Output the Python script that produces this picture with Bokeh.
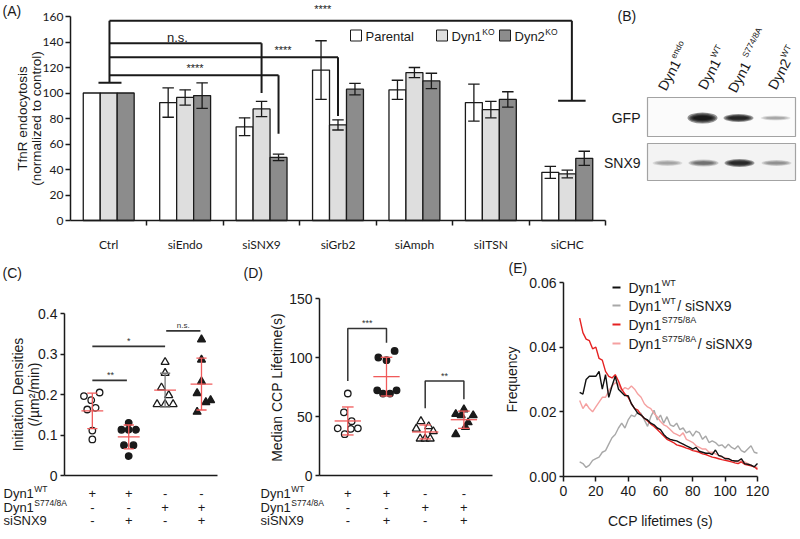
import math
import numpy as np
from bokeh.plotting import figure
from bokeh.models import Range1d, FixedTicker, Label, NumeralTickFormatter
from bokeh.layouts import row, column
from bokeh.embed import file_html
from bokeh.resources import INLINE

ARIAL = "Liberation Sans"
CALI = "Lato"
INK = "#1a1a1a"

# ------------------------------------------------------------------ data
# (A) TfnR endocytosis
a_categories = ["Ctrl", "siEndo", "siSNX9", "siGrb2", "siAmph", "siITSN", "siCHC"]
a_parental = [100, 92.5, 73.5, 118, 102.5, 92.5, 37.8]
a_parental_err = [0, 11.5, 7, 23, 7.5, 14.5, 4.7]
a_dyn1ko = [100, 96.5, 87.5, 75, 116, 87, 36.5]
a_dyn1ko_err = [0, 6, 6, 4, 4, 6.5, 3]
a_dyn2ko = [100, 98, 49.5, 103, 109.5, 95, 48.8]
a_dyn2ko_err = [0, 10, 2.5, 4.5, 6, 6, 5.5]
# comparisons vs Ctrl: (category, series index, label)
a_tests = [("siSNX9", 1, "n.s."), ("siGrb2", 1, "****"), ("siSNX9", 2, "****"), ("siCHC", 1, "****")]

# (B) western blot, relative band intensities
b_lane_base = ["Dyn1", "Dyn1", "Dyn1", "Dyn2"]
b_lane_sup = ["endo", "WT", "S774/8A", "WT"]
b_gfp = [0.0, 1.0, 0.9, 0.22]
b_snx9 = [0.25, 0.45, 0.95, 0.32]

# (C) initiation densities
c_wt = [0.196, 0.186, 0.205, 0.163, 0.167, 0.111, 0.089]
c_wt_si = [0.130, 0.113, 0.113, 0.113, 0.075, 0.075, 0.048]
c_s774 = [0.280, 0.253, 0.217, 0.198, 0.176, 0.176, 0.176]
c_s774_si = [0.336, 0.286, 0.232, 0.203, 0.186, 0.181, 0.157]
c_jitter = [[-0.23, -0.03, 0.2, -0.14, 0.09, 0.0, 0.0],
            [0.0, -0.2, 0.0, 0.2, -0.13, 0.13, 0.0],
            [0.0, 0.0, -0.1, 0.1, -0.22, 0.0, 0.22],
            [0.0, 0.0, 0.0, -0.12, 0.25, 0.12, -0.12]]

# (D) median CCP lifetime
d_wt = [69.5, 53.5, 46.0, 40.0, 39.5, 40.0, 35.0]
d_wt_si = [100.0, 97.7, 105.6, 72.2, 69.4, 69.4, 72.2]
d_s774 = [46.0, 39.6, 41.6, 37.4, 31.2, 31.2, 31.2]
d_s774_si = [56.0, 52.0, 51.0, 51.0, 45.0, 41.0, 35.0]
d_jitter = [[0.0, -0.1, 0.1, -0.26, 0.08, 0.26, -0.08],
            [-0.21, 0.0, 0.21, -0.24, -0.09, 0.09, 0.26],
            [-0.11, -0.23, 0.09, 0.21, -0.13, 0.0, 0.13],
            [0.0, -0.21, 0.24, -0.07, 0.11, 0.04, -0.21]]

cond_rows = [("Dyn1", "WT"), ("Dyn1", "S774/8A"), ("siSNX9", "")]
cond_table = [["+", "+", "-", "-"], ["-", "-", "+", "+"], ["-", "+", "-", "+"]]

# (E) CCP lifetime distributions
e_time = [10, 12, 14, 16, 18, 20, 22, 24, 26, 28, 30, 32, 34, 36, 38, 40, 42, 44, 46, 48,
          50, 52, 54, 56, 58, 60, 62, 64, 66, 68, 70, 72, 74, 76, 78, 80, 82, 84, 86, 88,
          90, 92, 94, 96, 98, 100, 102, 104, 106, 108, 110, 112, 114, 116, 118, 120]
e_wt = [0.026, 0.0255, 0.030, 0.031, 0.031, 0.031, 0.0325, 0.027, 0.0315, 0.0245,
        0.028, 0.031, 0.027, 0.026, 0.025, 0.025, 0.0225, 0.021, 0.0195, 0.019,
        0.018, 0.0175, 0.0165, 0.016, 0.015, 0.0145, 0.013, 0.012, 0.0115, 0.0112,
        0.011, 0.0105, 0.010, 0.0095, 0.009, 0.0085, 0.009, 0.0078, 0.0075, 0.0072,
        0.0072, 0.0068, 0.0082, 0.0065, 0.0062, 0.0055, 0.0055, 0.005, 0.0048, 0.0048,
        0.0055, 0.004, 0.0038, 0.0035, 0.003, 0.004]
e_wt_si = [0.0045, 0.004, 0.0028, 0.0035, 0.005, 0.0055, 0.006, 0.0075, 0.008, 0.010,
           0.012, 0.013, 0.015, 0.0165, 0.015, 0.0175, 0.019, 0.0185, 0.020, 0.0195,
           0.0175, 0.0155, 0.0185, 0.0205, 0.0175, 0.019, 0.0165, 0.0185, 0.016, 0.0155,
           0.0165, 0.0145, 0.015, 0.0135, 0.014, 0.0125, 0.014, 0.0135, 0.0115, 0.0125,
           0.0105, 0.011, 0.0105, 0.0095, 0.0098, 0.0088, 0.010, 0.009, 0.0085, 0.0095,
           0.008, 0.0075, 0.0085, 0.0095, 0.0075, 0.0072]
e_s775 = [0.049, 0.0445, 0.0425, 0.042, 0.0395, 0.040, 0.0365, 0.036, 0.0325, 0.031,
          0.0305, 0.0315, 0.0295, 0.027, 0.0255, 0.0245, 0.0225, 0.021, 0.0205, 0.019,
          0.018, 0.0172, 0.0162, 0.0155, 0.0145, 0.0135, 0.0125, 0.0115, 0.011, 0.0105,
          0.0098, 0.0095, 0.0092, 0.0088, 0.0085, 0.008, 0.0078, 0.0075, 0.007, 0.0068,
          0.0064, 0.006, 0.0058, 0.0055, 0.0052, 0.005, 0.0048, 0.0045, 0.0042, 0.004,
          0.0045, 0.0038, 0.0035, 0.0033, 0.003, 0.0022]
e_s775_si = [0.0235, 0.021, 0.0225, 0.021, 0.020, 0.0215, 0.023, 0.0245, 0.0245, 0.0265,
             0.028, 0.029, 0.0285, 0.0265, 0.0275, 0.027, 0.028, 0.027, 0.0255, 0.0245,
             0.0225, 0.0215, 0.021, 0.0195, 0.0185, 0.017, 0.016, 0.0155, 0.0145, 0.0135,
             0.013, 0.0125, 0.0135, 0.0115, 0.011, 0.0105, 0.0095, 0.009, 0.0085, 0.0085,
             0.0075, 0.0075, 0.007, 0.0065, 0.006, 0.0058, 0.0055, 0.005, 0.0048, 0.0045,
             0.0048, 0.0045, 0.004, 0.0035, 0.003, 0.0028]

# ------------------------------------------------------------------ helpers
AW = {' ': 278, '(': 333, ')': 333, '*': 389, '+': 584, '-': 333, '.': 278, '/': 278,
      'A': 667, 'C': 722, 'D': 722, 'E': 667, 'F': 611, 'G': 778, 'I': 278, 'K': 667,
      'L': 556, 'M': 833, 'N': 722, 'O': 778, 'P': 667, 'R': 722, 'S': 667, 'T': 611,
      'W': 944, 'X': 667, 'a': 556, 'c': 500, 'd': 556, 'e': 556, 'f': 278, 'i': 222,
      'l': 222, 'm': 833, 'n': 556, 'o': 556, 'r': 333, 's': 500, 't': 278, 'y': 500, 'z': 500}


def tw(s, size):
    return sum(AW.get(ch, 556) for ch in s) / 1000.0 * size


class FrameMap:
    """page pixel -> data coordinate (linear), defined by the axis box of a panel"""
    def __init__(self, L, R, T, B, x0, x1, y0, y1):
        self.L, self.R, self.T, self.B = L, R, T, B
        self.x0, self.x1, self.y0, self.y1 = x0, x1, y0, y1

    def X(self, px):
        return self.x0 + (px - self.L) * (self.x1 - self.x0) / (self.R - self.L)

    def Y(self, py):
        return self.y0 + (self.B - py) * (self.y1 - self.y0) / (self.B - self.T)


def lab(p, x, y, text, size=14, font=ARIAL, align="left", baseline="middle",
        angle=0.0, color=INK, style="normal"):
    p.add_layout(Label(x=x, y=y, text=text, text_font=font, text_font_size=f"{size}px",
                       text_align=align, text_baseline=baseline, angle=angle,
                       text_color=color, text_font_style=style))


def lab_sup(p, fm, X, Y, base, sup, size, ssize, tail="", color=INK):
    lab(p, fm.X(X), fm.Y(Y), base, size, color=color)
    w = tw(base, size)
    if sup:
        lab(p, fm.X(X + w + 0.5), fm.Y(Y - 0.33 * size), sup, ssize, color=color)
    if tail:
        lab(p, fm.X(X + w + tw(sup, ssize) + 2), fm.Y(Y), tail, size, color=color)


def make_panel(box, fm, axes=True):
    """box = page rectangle (left, top, right, bottom); the frame fills the whole figure"""
    pl, pt, pr, pb = box
    kw = {} if axes else dict(x_axis_location=None, y_axis_location=None)
    p = figure(width=pr - pl, height=pb - pt,
               x_range=Range1d(fm.X(pl), fm.X(pr)), y_range=Range1d(fm.Y(pb), fm.Y(pt)),
               output_backend="svg", toolbar_location=None,
               min_border=0, min_border_left=0, min_border_right=0,
               min_border_top=0, min_border_bottom=0, **kw)
    p.grid.visible = False
    p.outline_line_color = None
    p.background_fill_color = "white"
    p.border_fill_color = "white"
    if axes:
        p.xaxis[0].fixed_location = fm.y0
        p.xaxis[0].bounds = (fm.x0, fm.x1)
        p.yaxis[0].fixed_location = fm.x0
        p.yaxis[0].bounds = (fm.y0, fm.y1)
    return p


def style_axis(ax, size="14px", font=ARIAL, tick_out=4, standoff=3, width=1.5):
    ax.axis_line_color = INK
    ax.axis_line_width = width
    ax.major_tick_line_color = INK
    ax.major_tick_line_width = width
    ax.major_tick_out = tick_out
    ax.major_tick_in = 0
    ax.minor_tick_out = 0
    ax.minor_tick_in = 0
    ax.major_label_text_font = font
    ax.major_label_text_font_size = size
    ax.major_label_text_color = INK
    ax.major_label_standoff = standoff


# ------------------------------------------------------------------ (A)
fa = FrameMap(70, 605, 16, 220, 0, 7, 0, 160)
pA = make_panel((0, 0, 641, 250), fa)
bw = 0.222
a_fill = ["white", "#dedede", "#8c8c8c"]
series = [(a_parental, a_parental_err), (a_dyn1ko, a_dyn1ko_err), (a_dyn2ko, a_dyn2ko_err)]
bar_x = {}
for si, (vals, errs) in enumerate(series):
    xs = [i + 0.5 + (si - 1) * bw for i in range(len(a_categories))]
    for i, c in enumerate(a_categories):
        bar_x[(c, si)] = xs[i]
    pA.vbar(x=xs, top=vals, width=bw, fill_color=a_fill[si], line_color=INK, line_width=1.3)
    ex = [x for x, e in zip(xs, errs) if e > 0]
    lo = [v - e for v, e in zip(vals, errs) if e > 0]
    hi = [v + e for v, e in zip(vals, errs) if e > 0]
    pA.segment(ex, lo, ex, hi, line_color=INK, line_width=1.3)
    cap = 0.075
    pA.segment([x - cap for x in ex], hi, [x + cap for x in ex], hi, line_color=INK, line_width=1.3)
    pA.segment([x - cap for x in ex], lo, [x + cap for x in ex], lo, line_color=INK, line_width=1.3)

# significance brackets
base_x = 0.51
levels = [139, 128, 114, 156.6]
drops = [100, 82, 68, 94]
lab_pos = [(1.4, 143.5), (2.78, 133.5), (1.63, 119.5), (3.3, 165.5)]
pA.segment([0.366], [108], [0.667], [108], line_color=INK, line_width=2)
pA.segment([base_x], [108], [base_x], [156.6], line_color=INK, line_width=2)
for (cat, si, txt), lev, dr, (lx, ly) in zip(a_tests, levels, drops, lab_pos):
    tx = bar_x[(cat, si)] + (0.06 if cat == "siCHC" else 0.0)
    pA.segment([base_x], [lev], [tx], [lev], line_color=INK, line_width=2)
    pA.segment([tx], [lev], [tx], [dr], line_color=INK, line_width=2)
    if cat == "siCHC":
        pA.segment([tx - 0.18], [dr], [tx + 0.18], [dr], line_color=INK, line_width=2)
    lab(pA, lx, ly, txt, 13 if txt == "n.s." else 11, align="center")

# legend
leg_names = [("Parental", ""), ("Dyn1", "KO"), ("Dyn2", "KO")]
leg_px = [350, 436, 499]
for (nm, sup), px, col in zip(leg_names, leg_px, a_fill):
    pA.scatter([fa.X(px + 5.5)], [fa.Y(35)], marker="square", size=11, fill_color=col,
               line_color=INK, line_width=1)
    lab_sup(pA, fa, px + 15, 35.5, nm, sup, 13, 8.5)

ya = pA.yaxis[0]
style_axis(ya, size="12px", font=CALI, tick_out=5, standoff=2)
ya.ticker = FixedTicker(ticks=[0, 20, 40, 60, 80, 100, 120, 140, 160])
xa = pA.xaxis[0]
style_axis(xa, size="12px", font=CALI, tick_out=0, standoff=11)
xa.ticker = FixedTicker(ticks=[i + 0.5 for i in range(7)], minor_ticks=[1, 2, 3, 4, 5, 6, 7])
xa.major_label_overrides = {i + 0.5: c for i, c in enumerate(a_categories)}
xa.minor_tick_out = 5
xa.minor_tick_line_color = INK
xa.minor_tick_line_width = 1.5

lab(pA, fa.X(22), fa.Y(118), "TfnR endocytosis", 13.5, align="center", angle=math.pi / 2)
lab(pA, fa.X(36), fa.Y(118), "(normalized to control)", 13.5, align="center", angle=math.pi / 2)
lab(pA, fa.X(2), fa.Y(2), "(A)", 14, baseline="top")
# blot row labels and panel letter of (B) sit left of the blot
lab(pA, fa.X(640), fa.Y(117), "GFP", 14, align="right")
lab(pA, fa.X(640), fa.Y(162), "SNX9", 14, align="right")
lab(pA, fa.X(617), fa.Y(15), "(B)", 14)

# ------------------------------------------------------------------ (B)
fb = FrameMap(641, 800, 0, 250, 641, 800, 250, 0)   # data = reference pixel grid
pB = make_panel((641, 0, 800, 250), fb, axes=False)
lane_x = [667, 703, 739, 776]
pB.quad(left=[647], right=[795], top=[97], bottom=[136], fill_color="#fbfbfb",
        line_color="#a3a3a3", line_width=1.2)
pB.quad(left=[647], right=[795], top=[143], bottom=[180], fill_color="#f3f3f3",
        line_color="#a3a3a3", line_width=1.2)
gfp_h = [0, 11, 8, 5]
snx_h = [6, 7, 8, 6]
for i, xl in enumerate(lane_x):
    for k in range(4):
        if b_gfp[i] > 0:
            pB.ellipse(x=[xl - 1], y=[117.5], width=30 * (1 - 0.12 * k), height=gfp_h[i] * (1 - 0.2 * k),
                       fill_color="black", fill_alpha=min(0.9, b_gfp[i] * 0.42), line_color=None)
        pB.ellipse(x=[xl], y=[162.5], width=30 * (1 - 0.12 * k), height=snx_h[i] * (1 - 0.2 * k),
                   fill_color="black", fill_alpha=min(0.9, b_snx9[i] * 0.38), line_color=None)
th = math.radians(62)
anchors = [(661, 89), (701, 88), (731, 91), (771, 88)]
for (ax0, ay0), base, sup in zip(anchors, b_lane_base, b_lane_sup):
    lab(pB, ax0, ay0, base, 14, baseline="alphabetic", angle=th)
    w = tw(base, 14) + (4 if sup.startswith("S") else 0.5)
    sx = ax0 + w * math.cos(th) - 5 * math.sin(th)
    sy = ay0 - w * math.sin(th) - 5 * math.cos(th)
    lab(pB, sx, sy, sup, 8.5, baseline="alphabetic", angle=th)

# ------------------------------------------------------------------ (C)
RED = "#f05a5a"
SIG = "#333333"
fc = FrameMap(64, 217, 313, 475, 0.235, 4.44, 0, 0.4)
pC = make_panel((0, 250, 240, 539), fc)
c_groups = [(c_wt, "circle", "white"), (c_wt_si, "circle", INK),
            (c_s774, "triangle", "white"), (c_s774_si, "triangle", INK)]


def scatter_groups(p, groups, jit, mean_half, cap_half, sd_colors):
    for gi, ((vals, mk, fill), dx) in enumerate(zip(groups, jit), start=1):
        xs = [gi + d for d in dx]
        p.scatter(xs, vals, marker=mk, size=(6.5 if mk == "circle" else 8), fill_color=fill,
                  line_color=INK, line_width=1.3)
    for gi, ((vals, mk, fill), dx) in enumerate(zip(groups, jit), start=1):
        m = float(np.mean(vals))
        s = float(np.std(vals, ddof=1))
        sc = sd_colors[gi - 1]
        p.segment([gi], [m - s], [gi], [m + s], line_color=sc, line_width=1.3)
        p.segment([gi - cap_half] * 2, [m - s, m + s], [gi + cap_half] * 2, [m - s, m + s],
                  line_color=sc, line_width=1.3)
        p.segment([gi - mean_half], [m], [gi + mean_half], [m], line_color=RED, line_width=1.3)


scatter_groups(pC, c_groups, c_jitter, 0.3, 0.14, [RED, RED, "#777777", RED])
pC.segment([1.0, 1.0, 3.03], [0.235, 0.319, 0.357], [1.95, 3.0, 3.97], [0.235, 0.319, 0.357],
           line_color=SIG, line_width=1.8)
lab(pC, 1.5, 0.248, "**", 9, align="center", color=SIG)
lab(pC, 2.0, 0.332, "*", 9, align="center", color=SIG)
lab(pC, 3.5, 0.370, "n.s.", 8, align="center", color=SIG)

yc = pC.yaxis[0]
style_axis(yc, size="14px", tick_out=4, standoff=3)
yc.ticker = FixedTicker(ticks=[0, 0.1, 0.2, 0.3, 0.4])
yc.major_label_overrides = {0: "0"}
xc = pC.xaxis[0]
style_axis(xc, tick_out=0, standoff=3)
xc.ticker = FixedTicker(ticks=[])

lab(pC, fc.X(17), fc.Y(394), "Initiation Densities", 14, align="center", angle=math.pi / 2)
lab(pC, fc.X(33), fc.Y(394), "(/µm²/min)", 14, align="center", angle=math.pi / 2)
lab(pC, fc.X(2), fc.Y(272), "(C)", 14)
row_y = [493, 507, 520]


def cond_table_draw(p, fm, x_left):
    for (base, sup), ry, marks in zip(cond_rows, row_y, cond_table):
        lab_sup(p, fm, x_left, ry, base, sup, 13, 8.5)
        for gi, mk in enumerate(marks, start=1):
            lab(p, gi, fm.Y(ry), mk, 13, align="center")


cond_table_draw(pC, fc, 3)

# ------------------------------------------------------------------ (D)
fd = FrameMap(319, 492, 298, 475, 0.269, 4.739, 0, 150)
pD = make_panel((240, 250, 500, 539), fd)
d_groups = [(d_wt, "circle", "white"), (d_wt_si, "circle", INK),
            (d_s774, "triangle", "white"), (d_s774_si, "triangle", INK)]
scatter_groups(pD, d_groups, d_jitter, 0.34, 0.15, [RED, RED, RED, RED])
pD.multi_line([[1, 1, 2, 2], [3, 3, 4, 4]], [[80, 124.6, 124.6, 112.4], [57, 80, 80, 64.6]],
              line_color=SIG, line_width=1.5)
lab(pD, 1.5, 129, "***", 9, align="center", color=SIG)
lab(pD, 3.5, 84.5, "**", 9, align="center", color=SIG)

yd = pD.yaxis[0]
style_axis(yd, size="14px", tick_out=4, standoff=3)
yd.ticker = FixedTicker(ticks=[0, 50, 100, 150])
xd = pD.xaxis[0]
style_axis(xd, tick_out=0, standoff=3)
xd.ticker = FixedTicker(ticks=[])

lab(pD, fd.X(276), fd.Y(387), "Median CCP Lifetime(s)", 14, align="center", angle=math.pi / 2)
lab(pD, fd.X(243), fd.Y(272), "(D)", 14)
cond_table_draw(pD, fd, 260)

# ------------------------------------------------------------------ (E)
fe = FrameMap(563, 757, 282, 476, 0, 120, 0, 0.06)
pE = make_panel((500, 250, 800, 539), fe)
e_series = [("WT", "/ siSNX9", e_wt_si, "#a8a8a8"), ("S775/8A", "/ siSNX9", e_s775_si, "#f5a0a0"),
            ("S775/8A", "", e_s775, "#e52222"), ("WT", "", e_wt, "#111111")]
for sup, tail, ys, col in e_series:
    pE.line(e_time, ys, line_color=col, line_width=1.4)
legend_order = [3, 0, 2, 1]
leg_y = [287, 305, 324, 343]
for li, yy in zip(legend_order, leg_y):
    sup, tail, ys, col = e_series[li]
    pE.segment([fe.X(612)], [fe.Y(yy)], [fe.X(620)], [fe.Y(yy)], line_color=col, line_width=2)
    lab_sup(pE, fe, 628, yy, "Dyn1", sup, 14, 9, tail=tail)

ye = pE.yaxis[0]
style_axis(ye, size="14px", tick_out=4, standoff=3)
ye.ticker = FixedTicker(ticks=[0, 0.02, 0.04, 0.06])
ye.formatter = NumeralTickFormatter(format="0.00")
xe = pE.xaxis[0]
style_axis(xe, size="14px", tick_out=5, standoff=4)
xe.ticker = FixedTicker(ticks=[0, 20, 40, 60, 80, 100, 120])
lab(pE, fe.X(511), fe.Y(379), "Frequency", 14, align="center", angle=math.pi / 2)
lab(pE, fe.X(660), fe.Y(520), "CCP lifetimes (s)", 14, align="center")
lab(pE, fe.X(508), fe.Y(267), "(E)", 14)

layout = column(row(pA, pB), row(pC, pD, pE))
open("out.html", "w").write(file_html(layout, INLINE))
